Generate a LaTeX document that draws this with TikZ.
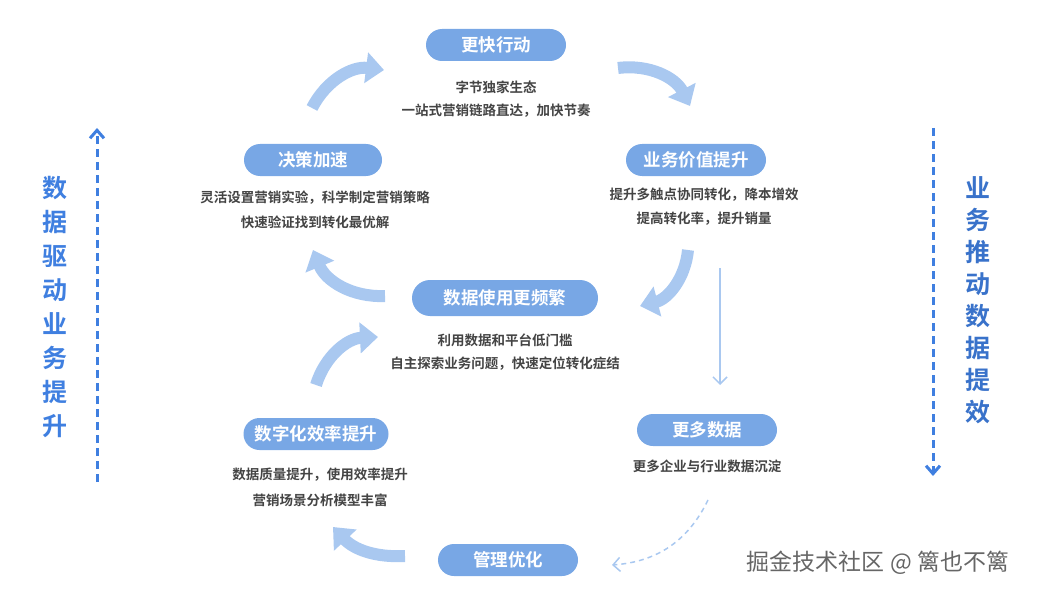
\documentclass[tikz,border=0pt]{standalone}
\usepackage{fontspec}
\setmainfont{Noto Sans CJK SC}[BoldFont={Noto Sans CJK SC Bold}]
\usetikzlibrary{arrows.meta}
\definecolor{pill}{HTML}{78A7E5}
\definecolor{arr}{HTML}{A9C8F0}
\definecolor{side}{HTML}{3F7FE0}
\definecolor{txt}{HTML}{444444}
\begin{document}
\begin{tikzpicture}[x=1pt,y=-1pt,
 pill/.style={rounded corners=16pt,fill=pill,text=white,font=\bfseries\fontsize{17.5}{18}\selectfont,minimum height=32pt,inner sep=0pt},
 sub/.style={text=txt,font=\bfseries\fontsize{13.5}{14}\selectfont,inner sep=0pt},
 fat/.style={line width=12pt,draw=arr,-{Triangle[width=30pt,length=18pt]}},
 vtext/.style={text=side,font=\bfseries\fontsize{25}{34}\selectfont,align=center,inner sep=0pt},
 sidedash/.style={draw=side,line width=3pt,dash pattern=on 8pt off 5pt,-{Straight Barb[length=8pt,width=14pt,line width=3pt]}}]
\useasboundingbox (0,0) rectangle (1040,596);
\node[pill,minimum width=140pt] (a) at (496,45) {更快行动};
\node[sub] (a1) at (496,87) {字节独家生态};
\node[sub] (a2) at (496,111) {一站式营销链路直达，加快节奏};
\node[pill,minimum width=138pt] (b) at (313,160) {决策加速};
\node[sub] (b1) at (315,198) {灵活设置营销实验，科学制定营销策略};
\node[sub] (b2) at (315,222) {快速验证找到转化最优解};
\node[pill,minimum width=140pt] (c) at (696,160) {业务价值提升};
\node[sub] (c1) at (704,195) {提升多触点协同转化，降本增效};
\node[sub] (c2) at (704,219) {提高转化率，提升销量};
\node[pill,minimum width=186pt,minimum height=36pt,rounded corners=18pt] (d) at (505,298) {数据使用更频繁};
\node[sub] (d1) at (505,340) {利用数据和平台低门槛};
\node[sub] (d2) at (505,364) {自主探索业务问题，快速定位转化症结};
\node[pill,minimum width=145pt] (e) at (316,434) {数字化效率提升};
\node[sub] (e1) at (320,475) {数据质量提升，使用效率提升};
\node[sub] (e2) at (320,500) {营销场景分析模型丰富};
\node[pill,minimum width=140pt] (f) at (707,430) {更多数据};
\node[sub] (f1) at (707,466) {更多企业与行业数据沉淀};
\node[pill,minimum width=140pt] (g) at (508,560) {管理优化};
\node[text=gray!80!black,font=\fontsize{23}{24}\selectfont,inner sep=0pt] (w) at (878,563) {掘金技术社区 @ 篱也不篱};
\node[vtext] (lt) at (55,307) {数\\据\\驱\\动\\业\\务\\提\\升};
\node[vtext,text=side!90!black,font=\bfseries\fontsize{25}{32}\selectfont] (rt) at (978,300) {业\\务\\推\\动\\数\\据\\提\\效};
\coordinate (l0) at (97,482); \coordinate (l1) at (97,128);
\coordinate (r0) at (933,128); \coordinate (r1) at (933,476);
\draw[sidedash] (l0) -- (l1);
\draw[sidedash] (r0) -- (r1);
\coordinate (t0) at (720,268); \coordinate (t1) at (720,385);
\draw[draw=arr,line width=1.5pt,-{Straight Barb[length=7pt]}] (t0) -- (t1);
\coordinate (q0) at (708,500); \coordinate (q1) at (612,565);
\draw[draw=arr,line width=1.5pt,dash pattern=on 5pt off 4pt,-{Straight Barb[length=7pt]}] (q0) to[bend left=30] (q1);
\coordinate (m0) at (312,108); \coordinate (m1) at (384,70);
\draw[fat] (m0) to[bend left=35] (m1);
\coordinate (n0) at (618,68); \coordinate (n1) at (690,106);
\draw[fat] (n0) to[bend left=35] (n1);
\coordinate (o0) at (688,250); \coordinate (o1) at (640,306);
\draw[fat] (o0) to[bend left=35] (o1);
\coordinate (p0) at (385,296); \coordinate (p1) at (313,250);
\draw[fat] (p0) to[bend left=35] (p1);
\coordinate (s0) at (316,385); \coordinate (s1) at (378,337);
\draw[fat] (s0) to[bend left=35] (s1);
\coordinate (u0) at (405,556); \coordinate (u1) at (333,527);
\draw[fat] (u0) to[bend left=25] (u1);
\end{tikzpicture}
\end{document}
